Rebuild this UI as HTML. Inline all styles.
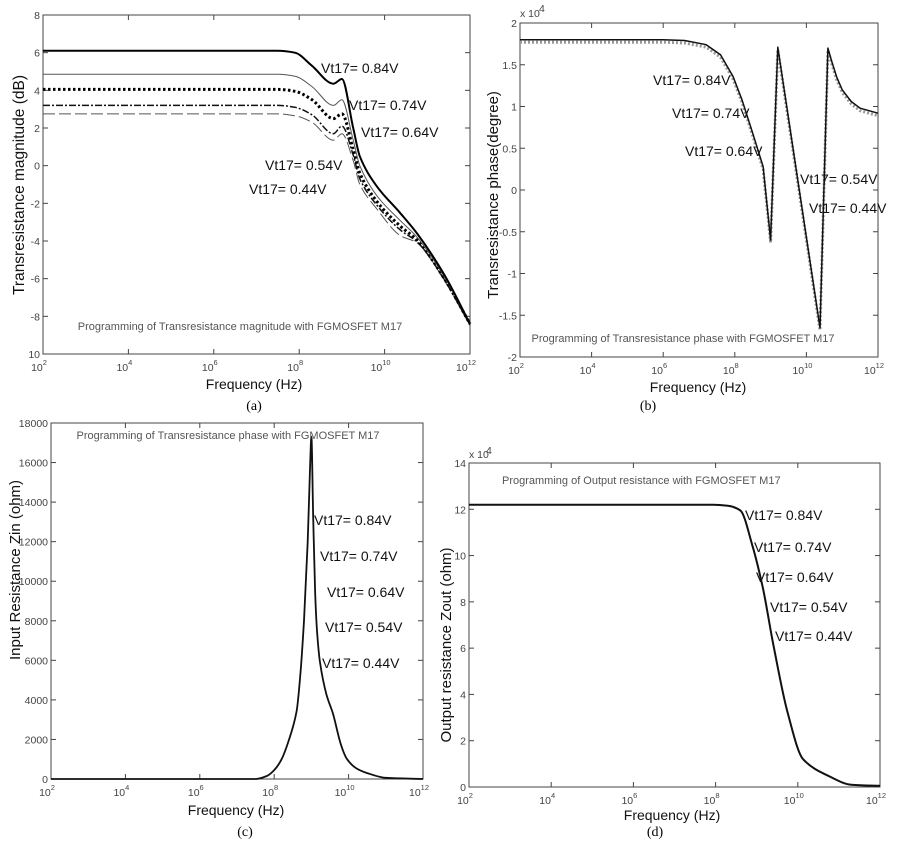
<!DOCTYPE html>
<html><head><meta charset="utf-8">
<style>
html,body{margin:0;padding:0;background:#fff;}
svg{display:block;font-family:"Liberation Sans",Arial,sans-serif;}
.tk{font-size:10.5px;fill:#444;}
.lab{font-size:14px;fill:#111;}
.ann{font-size:11px;fill:#555;}
.cap{font-family:"Liberation Serif",serif;font-size:14px;fill:#000;}
</style></head>
<body>
<svg id="fig" width="902" height="842" viewBox="0 0 902 842" xmlns="http://www.w3.org/2000/svg"></svg>
<script>
// ---- Data (log10 of frequency, values) ----
const aLogF = [2, 7.5, 7.9, 8.3, 8.8, 9.0, 9.26, 9.42, 9.82, 10.36, 10.76, 11.4, 12];
const a084 = [6.1, 6.1, 6.0, 5.3, 4.35, 4.6, 2.05, 0.5, -1.1, -2.5, -3.6, -5.8, -8.4];
const a074 = [4.85, 4.85, 4.75, 4.2, 3.2, 3.5, 1.4, 0.0, -1.6, -2.9, -3.8, -5.9, -8.4];
const a064 = [4.05, 4.05, 3.95, 3.5, 2.5, 2.75, 0.9, -0.4, -1.9, -3.2, -3.95, -6.0, -8.4];
const a054 = [3.2, 3.2, 3.1, 2.7, 1.7, 2.1, 0.6, -0.7, -2.1, -3.4, -4.05, -6.05, -8.45];
const a044 = [2.75, 2.75, 2.65, 2.3, 1.35, 1.7, 0.3, -1.0, -2.3, -3.7, -4.1, -6.1, -8.5];
const aYTicks = [8, 6, 4, 2, 0, -2, -4, -6, -8, -10];
const aYLabels = ["8", "6", "4", "2", "0", "-2", "-4", "-6", "-8", "10"];

const bLogF = [2, 6.0, 6.6, 7.2, 7.6, 7.95, 8.2, 8.5, 8.79, 9.0, 9.2, 10.38, 10.6, 10.7, 10.85, 11.0, 11.25, 11.5, 12];
const bPhase = [1.8, 1.8, 1.79, 1.74, 1.62, 1.36, 1.08, 0.68, 0.28, -0.6, 1.71, -1.65, 1.7, 1.55, 1.35, 1.2, 1.06, 0.98, 0.92];
const bYTicks = [2, 1.5, 1, 0.5, 0, -0.5, -1, -1.5, -2];

const cLogF = [2, 7.5, 7.8, 8.0, 8.2, 8.4, 8.6, 8.7, 8.8, 8.9, 8.96, 9.0, 9.05, 9.1, 9.15, 9.23, 9.4, 9.58, 9.8, 9.96, 10.2, 10.5, 11, 12];
const cZin = [0, 0, 150, 450, 1000, 2000, 3400, 5200, 8000, 12000, 15500, 17300, 13000, 9500, 7500, 5900, 4300, 3300, 1700, 1000, 550, 300, 60, 0];
const cYTicks = [0, 2000, 4000, 6000, 8000, 10000, 12000, 14000, 16000, 18000];

const dLogF = [2, 7.94, 8.3, 8.6, 8.9, 9.15, 9.4, 9.74, 10.13, 10.78, 11.3, 12];
const dZout = [12.2, 12.2, 12.15, 11.95, 10.4, 8.6, 6.2, 3.3, 1.2, 0.45, 0.1, 0.05];
const dYTicks = [0, 2, 4, 6, 8, 10, 12, 14];

const xDecades = [2, 4, 6, 8, 10, 12];
const vLabels = ["Vt17= 0.84V", "Vt17= 0.74V", "Vt17= 0.64V", "Vt17= 0.54V", "Vt17= 0.44V"];

const NS = "http://www.w3.org/2000/svg";
const fig = document.getElementById('fig');
function el(tag, attrs, parent) {
  const e = document.createElementNS(NS, tag);
  for (const k in attrs) e.setAttribute(k, attrs[k]);
  (parent || fig).appendChild(e);
  return e;
}
function txt(s, x, y, cls, parent, anchor) {
  const t = el('text', {x: x, y: y, class: cls, 'text-anchor': anchor || 'start'}, parent);
  t.textContent = s;
  return t;
}

function makeChart(id, box, ymin, ymax, yTicks, yLabels) {
  const g = el('g', {});
  
  
  const xs = v => box.x0 + (v - 2) / 10 * (box.x1 - box.x0);
  const ys = v => box.y1 - (v - ymin) / (ymax - ymin) * (box.y1 - box.y0);
  const frame = el('rect', {x: box.x0, y: box.y0, width: box.x1 - box.x0, height: box.y1 - box.y0, fill: 'none', stroke: '#444', 'stroke-width': 1}, g);
  
  
  const xt = el('g', {}, g);
  
  
  xDecades.forEach(d => {
    const x = xs(d);
    el('line', {x1: x, y1: box.y1, x2: x, y2: box.y1 - 5, stroke: '#444'}, xt);
    el('line', {x1: x, y1: box.y0, x2: x, y2: box.y0 + 5, stroke: '#444'}, xt);
    const t = el('text', {x: x - 4, y: box.y1 + 17, class: 'tk', 'text-anchor': 'middle'}, xt);
    t.textContent = '10';
    const s = el('tspan', {dy: -6, 'font-size': '7.5px'}, t);
    s.textContent = String(d);
  });
  const yt = el('g', {}, g);
  
  
  yTicks.forEach((v, i) => {
    const y = ys(v);
    el('line', {x1: box.x0, y1: y, x2: box.x0 + 5, y2: y, stroke: '#444'}, yt);
    el('line', {x1: box.x1, y1: y, x2: box.x1 - 5, y2: y, stroke: '#444'}, yt);
    txt(yLabels ? yLabels[i] : String(v), box.x0 - 3, y + 4, 'tk', yt, 'end');
  });
  return {g, xs, ys};
}
// monotone cubic (Fritsch-Carlson style) in x
function pathD(pts, smooth) {
  if (!smooth) return pts.map((p, i) => (i ? 'L' : 'M') + p[0].toFixed(1) + ',' + p[1].toFixed(1)).join(' ');
  const n = pts.length, sec = [], m = [];
  for (let i = 0; i < n - 1; i++) sec.push((pts[i + 1][1] - pts[i][1]) / (pts[i + 1][0] - pts[i][0]));
  for (let i = 0; i < n; i++) {
    if (i === 0) m.push(sec[0]);
    else if (i === n - 1) m.push(sec[n - 2]);
    else if (sec[i - 1] * sec[i] <= 0) m.push(0);
    else {
      const a = sec[i - 1], b = sec[i];
      m.push(2 / (1 / a + 1 / b));
    }
  }
  let d = 'M' + pts[0][0].toFixed(1) + ',' + pts[0][1].toFixed(1);
  for (let i = 0; i < n - 1; i++) {
    const dx = (pts[i + 1][0] - pts[i][0]) / 3;
    d += ' C' + (pts[i][0] + dx).toFixed(1) + ',' + (pts[i][1] + m[i] * dx).toFixed(1) + ' ' +
      (pts[i + 1][0] - dx).toFixed(1) + ',' + (pts[i + 1][1] - m[i + 1] * dx).toFixed(1) + ' ' +
      pts[i + 1][0].toFixed(1) + ',' + pts[i + 1][1].toFixed(1);
  }
  return d;
}
function series(ch, logs, vals, name, style, smooth) {
  const pts = logs.map((l, i) => [ch.xs(l), ch.ys(vals[i])]);
  const p = el('path', Object.assign({d: pathD(pts, smooth), fill: 'none', 'stroke-linejoin': 'round'}, style), ch.g);
  
  
}
function labels(ch, pos, size) {
  pos.forEach((p, i) => {
    const t = txt(vLabels[i], p[0], p[1], 'lab', ch.g);
    t.setAttribute('font-size', size + 'px');
    
    
  });
}
function rotLabel(ch, s, x, y, size, name) {
  const t = el('text', {x: x, y: y, 'font-size': size + 'px', fill: '#111', 'text-anchor': 'middle', transform: 'rotate(-90 ' + x + ' ' + y + ')'}, ch.g);
  t.textContent = s;
  
  
}
function plain(ch, s, x, y, cls, name, anchor, size) {
  const t = txt(s, x, y, cls, ch.g, anchor || 'middle');
  if (size) t.setAttribute('font-size', size + 'px');
  
  
}

// ---- Chart (a) ----
const A = makeChart('chart-a-magnitude', {x0: 43, x1: 470, y0: 15, y1: 354}, -10, 8, aYTicks, aYLabels);
series(A, aLogF, a044, 'series-044v', {stroke: '#555', 'stroke-width': 1, 'stroke-dasharray': '12,4'}, true);
series(A, aLogF, a054, 'series-054v', {stroke: '#111', 'stroke-width': 1.5, 'stroke-dasharray': '7,2,2,2'}, true);
series(A, aLogF, a064, 'series-064v', {stroke: '#000', 'stroke-width': 3, 'stroke-dasharray': '2.5,2.5'}, true);
series(A, aLogF, a074, 'series-074v', {stroke: '#555', 'stroke-width': 1}, true);
series(A, aLogF, a084, 'series-084v', {stroke: '#000', 'stroke-width': 2}, true);
labels(A, [[321, 73], [349, 110], [361, 137], [265, 170], [249, 194]], 14);
plain(A, 'Programming of Transresistance magnitude with FGMOSFET M17', 240, 330, 'ann', 'annotation');
rotLabel(A, 'Transresistance magnitude (dB)', 24, 185, 15.5, 'y-axis-title');
plain(A, 'Frequency (Hz)', 254, 389, 'lab', 'x-axis-title', 'middle', 15.5);
plain(A, '(a)', 254, 410, 'cap', 'caption-a');

// ---- Chart (b) ----
const B = makeChart('chart-b-phase', {x0: 520, x1: 878, y0: 23, y1: 357}, -2, 2, bYTicks);
series(B, bLogF, bPhase.map(v => v - 0.03), 'series-phase-shadow', {stroke: '#999', 'stroke-width': 3, 'stroke-dasharray': '2,2'});
series(B, bLogF, bPhase, 'series-phase', {stroke: '#111', 'stroke-width': 1.5});
labels(B, [[653, 85], [672, 118], [685, 156], [800, 184], [809, 213]], 13);
plain(B, 'Programming of Transresistance phase with FGMOSFET M17', 683, 342, 'ann', 'annotation', 'middle', 10.5);
rotLabel(B, 'Transresistance phase(degree)', 498, 195, 15, 'y-axis-title');
plain(B, 'Frequency (Hz)', 698, 392, 'lab', 'x-axis-title', 'middle', 15);
plain(B, '(b)', 648, 410, 'cap', 'caption-b');
plain(B, 'x 10', 520, 17, 'tk', 'y-scale-multiplier', 'start', 9.5);
plain(B, '4', 539, 12, 'tk', 'y-scale-exponent', 'start', 7);

// ---- Chart (c) ----
const C = makeChart('chart-c-zin', {x0: 51, x1: 423, y0: 423, y1: 779}, 0, 18000, cYTicks);
series(C, cLogF, cZin, 'series-zin', {stroke: '#111', 'stroke-width': 1.8}, true);
labels(C, [[314, 525], [320, 561], [327, 597], [325, 632], [322, 668]], 13);
plain(C, 'Programming of Transresistance phase with FGMOSFET M17', 228, 439, 'ann', 'annotation', 'middle', 10.5);
rotLabel(C, 'Input Resistance Zin (ohm)', 20, 570, 15, 'y-axis-title');
plain(C, 'Frequency (Hz)', 236, 815, 'lab', 'x-axis-title', 'middle', 15);
plain(C, '(c)', 245, 836, 'cap', 'caption-c');

// ---- Chart (d) ----
const D = makeChart('chart-d-zout', {x0: 469, x1: 880, y0: 463, y1: 787}, 0, 14, dYTicks);
series(D, dLogF, dZout, 'series-zout', {stroke: '#111', 'stroke-width': 2}, true);
labels(D, [[745, 520], [754, 552], [756, 582], [770, 612], [775, 641]], 13);
plain(D, 'Programming of Output resistance with FGMOSFET M17', 502, 484, 'ann', 'annotation', 'start', 10.5);
rotLabel(D, 'Output resistance Zout (ohm)', 451, 645, 15, 'y-axis-title');
plain(D, 'Frequency (Hz)', 672, 820, 'lab', 'x-axis-title', 'middle', 15);
plain(D, '(d)', 655, 836, 'cap', 'caption-d');
plain(D, 'x 10', 469, 458, 'tk', 'y-scale-multiplier', 'start', 8);
plain(D, '4', 486, 454, 'tk', 'y-scale-exponent', 'start', 6);
</script>
</body></html>
